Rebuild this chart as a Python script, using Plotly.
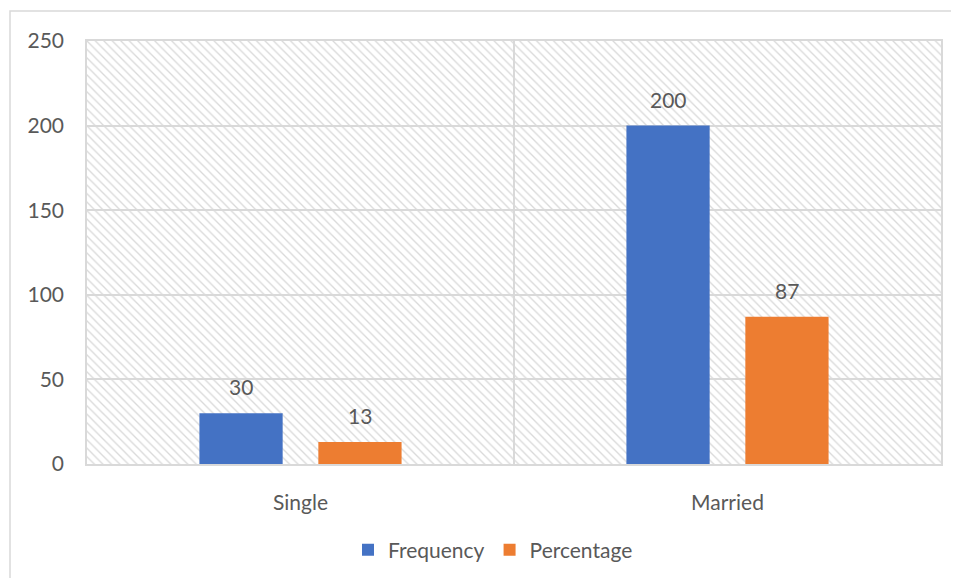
import plotly.graph_objects as go

categories = ["Single", "Married"]
frequency = [30, 200]
percentage = [13, 87]
series_names = ["Frequency", "Percentage"]
y_ticks = [0, 50, 100, 150, 200, 250]

BLUE = "#4472C4"
ORANGE = "#ED7D31"
GRID = "#d9d9d9"
TEXT = "#595959"
FONT = "Lato, 'Open Sans', sans-serif"
FS = 21

# geometry (figure-local pixels; page adds an 8px body offset)
ML, MR, MT, MB = 79, 26, 33, 122
W, H = 959, 578
PW = W - ML - MR
PH = H - MT - MB
BARGAP, BARGROUPGAP = 0.443, 0.30
slot = (PW / len(categories)) * (1 - BARGAP) / 2

fig = go.Figure()

# hatched plot-area background (pattern bar spanning the whole plot area)
fig.add_trace(go.Bar(
    x=[0.5], y=[max(y_ticks)], width=[1], xaxis="x", yaxis="y",
    marker=dict(color="#d9d9d9", line=dict(width=0),
                pattern=dict(shape="\\", size=6, solidity=0.22, fillmode="replace")),
    showlegend=False, hoverinfo="skip",
))

annotations = []
series = [(series_names[0], frequency, BLUE, -0.5), (series_names[1], percentage, ORANGE, 0.5)]
for name, vals, col, side in series:
    fig.add_trace(go.Bar(
        x=categories, y=vals, name=name, xaxis="x2", yaxis="y",
        marker=dict(color=col, line=dict(width=0)),
        hoverinfo="x+y+name",
    ))
    for c, v in zip(categories, vals):
        annotations.append(dict(
            x=c, y=v, xref="x2", yref="y", text=str(v), showarrow=False,
            xanchor="center", yanchor="bottom", xshift=side * slot, yshift=12,
            font=dict(size=FS, color=TEXT, family=FONT),
        ))

fig.update_layout(
    width=W, height=H,
    margin=dict(l=ML, r=MR, t=MT, b=MB),
    paper_bgcolor="white", plot_bgcolor="white",
    font=dict(family=FONT, size=FS, color=TEXT),
    barmode="group", bargap=BARGAP, bargroupgap=BARGROUPGAP,
    xaxis=dict(range=[0, 1], visible=False, fixedrange=True),
    xaxis2=dict(overlaying="x", anchor="y", type="category",
                showgrid=True, gridcolor=GRID, gridwidth=1.5, tickson="boundaries",
                ticks="", showline=True, linecolor=GRID, linewidth=1.5, mirror=True,
                ticklabelstandoff=19, tickfont=dict(size=FS, color=TEXT)),
    yaxis=dict(range=[0, 250], tickvals=y_ticks, showgrid=True, gridcolor=GRID, gridwidth=1.5,
               showline=True, linecolor=GRID, linewidth=1.5, mirror=True, zeroline=False,
               ticks="", ticklabelstandoff=17, tickfont=dict(size=FS, color=TEXT)),
    legend=dict(orientation="h", x=(493 - 8 - ML) / PW, xanchor="center",
                y=-(542 - (MT + PH)) / PH, yanchor="middle",
                font=dict(size=FS, color=TEXT), traceorder="normal", itemwidth=30),
    showlegend=True,
    annotations=annotations,
    shapes=[dict(type="rect", xref="paper", yref="paper",
                 x0=(2 - ML) / PW, x1=1.06, y0=-0.4, y1=1 + (MT - 3) / PH,
                 line=dict(color=GRID, width=1.5), fillcolor="rgba(0,0,0,0)", layer="below")],
)

fig.write_html("out.html")
